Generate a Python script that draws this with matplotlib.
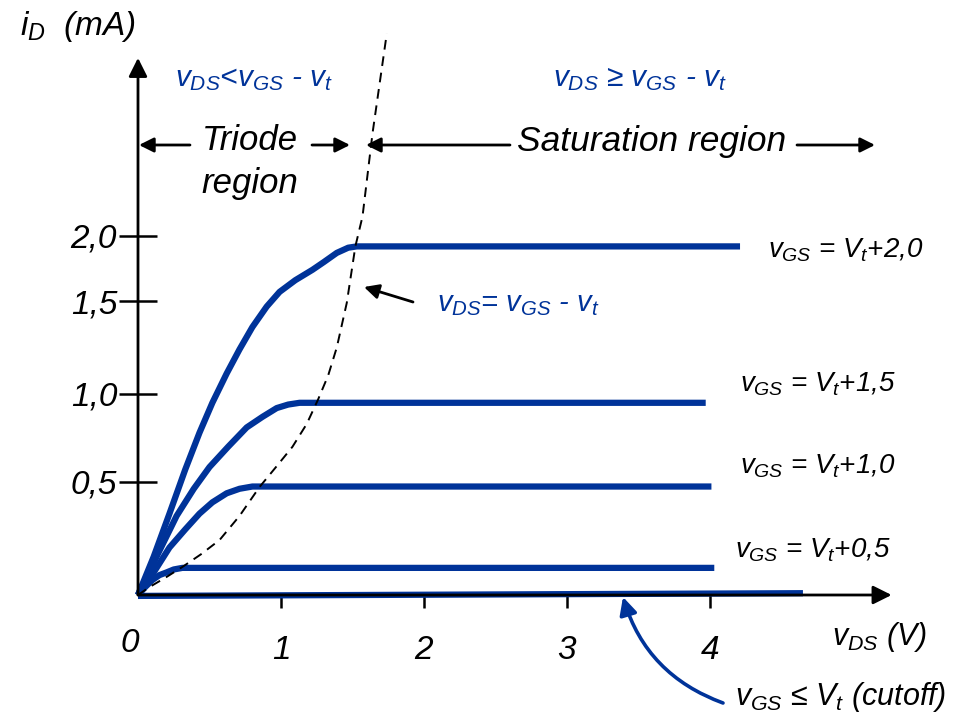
import matplotlib.pyplot as plt
import numpy as np

plt.rcParams['font.family'] = ['Liberation Sans', 'DejaVu Sans']
plt.rcParams['font.style'] = 'italic'
plt.rcParams['mathtext.fontset'] = 'custom'
plt.rcParams['mathtext.it'] = 'Liberation Sans:italic'
plt.rcParams['mathtext.rm'] = 'Liberation Sans:italic'
plt.rcParams['mathtext.default'] = 'it'

BLUE = '#003399'
W, H = 966, 719

# the sketch's current axis is not linear: pixel height of each value above the origin
scale_mA = [-2.0, 0.0, 0.5, 1.0, 1.5, 2.0, 6.0]
scale_px = [-452, 0, 113, 201, 294, 359, 879]

def fwd(y):
    return np.interp(y, scale_mA, scale_px)

def inv(h):
    return np.interp(h, scale_px, scale_mA)

# output characteristics, v_DS (V) and i_D (mA)
vds_20 = [0.0, 0.11, 0.22, 0.33, 0.43, 0.52, 0.62, 0.71, 0.80, 0.90, 0.99, 1.10, 1.22, 1.30, 1.39, 1.47, 1.53, 4.21]
id_20 = [0.0, 0.17, 0.36, 0.57, 0.78, 0.95, 1.11, 1.24, 1.36, 1.47, 1.57, 1.66, 1.74, 1.80, 1.87, 1.91, 1.92, 1.92]

vds_15 = [0.0, 0.13, 0.27, 0.39, 0.50, 0.63, 0.76, 0.87, 0.97, 1.05, 1.13, 3.97]
id_15 = [0.0, 0.17, 0.35, 0.47, 0.585, 0.70, 0.81, 0.87, 0.92, 0.94, 0.95, 0.95]

vds_10 = [0.0, 0.11, 0.22, 0.33, 0.43, 0.52, 0.62, 0.71, 0.80, 4.01]
id_10 = [0.0, 0.10, 0.21, 0.29, 0.36, 0.41, 0.45, 0.47, 0.48, 0.48]

vds_05 = [0.0, 0.05, 0.10, 0.15, 0.20, 0.25, 0.31, 4.03]
id_05 = [0.0, 0.035, 0.066, 0.088, 0.10, 0.113, 0.12, 0.12]

vds_cut = [0.0, 4.65]
id_cut = [-0.004, 0.008]

# boundary v_DS = v_GS - v_t
vds_edge = [0.0, 0.08, 0.20, 0.31, 0.44, 0.57, 0.71, 0.85, 0.97, 1.08, 1.18, 1.26, 1.33, 1.39, 1.46, 1.52, 1.57, 1.64, 1.74]
id_edge = [0.0, 0.035, 0.08, 0.124, 0.18, 0.243, 0.35, 0.478, 0.59, 0.70, 0.83, 0.97, 1.10, 1.25, 1.49, 1.92, 2.15, 2.79, 3.56]

curves = [(vds_20, id_20), (vds_15, id_15), (vds_10, id_10), (vds_05, id_05), (vds_cut, id_cut)]
curve_labels = [r'$v_{GS}$ = $V_t$+2,0', r'$v_{GS}$ = $V_t$+1,5',
                r'$v_{GS}$ = $V_t$+1,0', r'$v_{GS}$ = $V_t$+0,5']

x_ticks = [1, 2, 3, 4]
x_ticklabels = ['1', '2', '3', '4']
y_ticks = [0.5, 1.0, 1.5, 2.0]
y_ticklabels = ['0,5', '1,0', '1,5', '2,0']


def P(x, y):
    # picture pixel (from top left) -> figure fraction
    return (x / W, 1 - y / H)


fig = plt.figure(figsize=(W / 100, H / 100), dpi=100)
ax = fig.add_axes([0, 0, 1, 1])
ax.set_yscale('function', functions=(fwd, inv))
ax.set_xlim(-138 / 143, (W - 138) / 143)
ax.set_ylim(inv(-124), inv(595))

for s in ax.spines.values():
    s.set_visible(False)
ax.spines['left'].set_position(('data', 0))
ax.spines['bottom'].set_position(('data', 0))

ax.set_xticks(x_ticks, x_ticklabels)
ax.set_yticks(y_ticks, y_ticklabels)
ax.minorticks_off()
ax.tick_params(axis='x', direction='out', length=9, width=1.8, pad=20, labelsize=24)
ax.tick_params(axis='y', direction='inout', length=28, width=1.8, pad=1, labelsize=24)

# axes with arrow heads
ax.annotate('', xy=(5.27, 0), xytext=(0, 0),
            arrowprops=dict(arrowstyle='-|>', mutation_scale=28, lw=2, color='black', shrinkA=0, shrinkB=0))
ax.annotate('', xy=(0, 3.37), xytext=(0, 0),
            arrowprops=dict(arrowstyle='-|>', mutation_scale=28, lw=2, color='black', shrinkA=0, shrinkB=0))

ax.plot(vds_edge, id_edge, color='black', lw=1.4, ls=(0, (5, 3.5)), zorder=3)
for vx, iy in curves:
    ax.plot(vx, iy, color=BLUE, lw=4.5, solid_capstyle='butt', solid_joinstyle='round', zorder=2)

# labels of the curves
label_pos = [(768, 250), (740, 384), (740, 466), (735, 550)]
for txt, (px, py) in zip(curve_labels, label_pos):
    fig.text(*P(px, py), txt, fontsize=20, ha='left', va='center')

fig.text(*P(130, 643), '0', fontsize=24, ha='center', va='center')
fig.text(*P(832, 637), r'$v_{DS}$ (V)', fontsize=22, ha='left', va='center')
fig.text(*P(20, 26), r'$i_D$  (mA)', fontsize=24, ha='left', va='center')

fig.text(*P(175, 79), r'$v_{DS}$<$v_{GS}$ - $v_t$', fontsize=21.5, color=BLUE, ha='left', va='center')
fig.text(*P(553, 79), r'$v_{DS}$ ≥ $v_{GS}$ - $v_t$', fontsize=21.5, color=BLUE, ha='left', va='center')
fig.text(*P(437, 304), r'$v_{DS}$= $v_{GS}$ - $v_t$', fontsize=21, color=BLUE, ha='left', va='center')
fig.text(*P(735, 697), r'$v_{GS}$ ≤ $V_t$ (cutoff)', fontsize=22, ha='left', va='center')

fig.text(*P(250, 141), 'Triode', fontsize=25, ha='center', va='center')
fig.text(*P(250, 184), 'region', fontsize=25, ha='center', va='center')
fig.text(*P(652, 141), 'Saturation region', fontsize=25.5, ha='center', va='center')

arrow_kw = dict(arrowstyle='-|>', mutation_scale=22, lw=2, color='black', shrinkA=0, shrinkB=0)
for tail, head in [((190, 145), (139, 145)), ((312, 145), (350, 145)),
                   ((510, 145), (366, 145)), ((797, 145), (875, 145)),
                   ((413, 302), (364, 287))]:
    ax.annotate('', xy=P(*head), xycoords='figure fraction',
                xytext=P(*tail), textcoords='figure fraction', arrowprops=arrow_kw)

ax.annotate('', xy=P(623, 597), xycoords='figure fraction',
            xytext=P(723, 703), textcoords='figure fraction',
            arrowprops=dict(arrowstyle='-|>', mutation_scale=26, lw=2.6, color=BLUE,
                            shrinkA=0, shrinkB=0, connectionstyle='arc3,rad=-0.25'))

fig.savefig('out.png', dpi=100)
